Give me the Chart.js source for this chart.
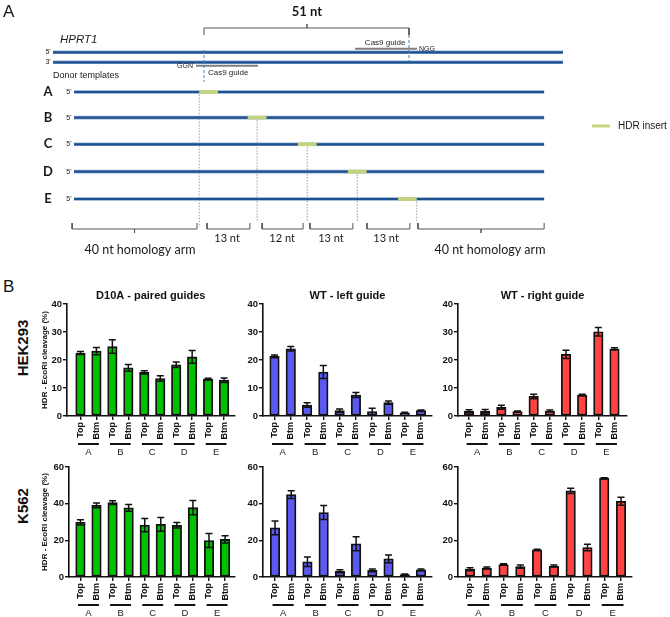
<!DOCTYPE html>
<html>
<head>
<meta charset="utf-8">
<title>HPRT1 HDR</title>
<script src="https://cdn.jsdelivr.net/npm/chart.js@4.4.1/dist/chart.umd.min.js"></script>
<style>
    html, body { margin: 0; padding: 0; background: #fff; }
    #fig { position: relative; width: 670px; height: 617px; overflow: hidden; font-family: "Liberation Sans", Arial, sans-serif; }
    canvas { position: absolute; }
    .panel { position: absolute; font-size: 17px; color: #111; }
    .cell { position: absolute; font-weight: bold; font-size: 15px; color: #111; white-space: nowrap;
            transform: translate(-50%, -50%) rotate(-90deg); }
</style>
</head>
<body>
<div id="fig">
    <canvas id="schematic" width="670" height="262" style="left:0;top:0"></canvas>
    <div class="panel" style="left:3px;top:277px">B</div>
    <div class="cell" style="left:22px;top:348px">HEK293</div>
    <div class="cell" style="left:22px;top:506px">K562</div>
    <canvas id="hekD10A"></canvas>
    <canvas id="hekLeft"></canvas>
    <canvas id="hekRight"></canvas>
    <canvas id="k562D10A"></canvas>
    <canvas id="k562Left"></canvas>
    <canvas id="k562Right"></canvas>
</div>
<script>
// ======================== 数据 (B) ========================
const groups = ['A', 'B', 'C', 'D', 'E'];
const strands = ['Top', 'Btm'];
const categories = groups.flatMap(() => strands);
const hekTicks = [0, 10, 20, 30, 40];
const k562Ticks = [0, 20, 40, 60];

const hekD10A      = [22.5, 23.2, 24.8, 17.2, 15.6, 13.4, 18.3, 21.1, 13.2, 12.8];
const hekD10AErr   = [0.5, 1.3, 2.4, 1.2, 0.6, 1.0, 1.0, 2.3, 0.3, 0.8];
const hekLeft      = [21.3, 24.0, 3.9, 15.7, 1.9, 7.5, 1.6, 4.8, 1.1, 1.9];
const hekLeftErr   = [0.5, 0.8, 0.8, 2.3, 0.6, 0.9, 1.2, 0.6, 0.2, 0.2];
const hekRight     = [1.7, 1.7, 3.1, 1.6, 7.0, 1.8, 22.0, 7.5, 30.1, 24.0];
const hekRightErr  = [0.5, 0.6, 0.7, 0.2, 0.8, 0.3, 1.5, 0.3, 1.5, 0.4];
const k562D10A     = [29.8, 39.1, 40.6, 37.7, 28.3, 28.7, 28.2, 37.8, 19.9, 20.5];
const k562D10AErr  = [1.4, 1.3, 1.0, 1.8, 3.6, 3.8, 1.5, 3.9, 3.8, 2.0];
const k562Left     = [26.8, 44.9, 8.3, 35.2, 3.1, 18.1, 3.6, 9.9, 1.3, 3.9];
const k562LeftErr  = [3.8, 2.1, 2.6, 3.8, 0.8, 3.8, 0.8, 2.1, 0.3, 0.5];
const k562Right    = [4.2, 4.9, 6.8, 5.7, 14.8, 6.0, 47.0, 16.1, 53.9, 41.3];
const k562RightErr = [0.8, 0.5, 0.4, 0.9, 0.4, 0.6, 1.4, 1.8, 0.3, 2.2];

// ======================== 示意图 (A) ========================
// x: schematic nt units, y: track rows (donor A = 0)
const genomeRows = [-1.484, -1.110];          // 5' / 3' strands
const genomeEnds = ["5'", "3'"];
const genomeSpan = [-6.7, 156.2];
const donorRows = [0, 0.957, 1.955, 2.976, 4.0];
const donorSpan = [0, 150.2];
const insertStarts = [40, 55.5, 71.5, 87.5, 103.5];
const insertLength = 6;
const dropOffsets = [0, 3, 3, 3, 6];
const dropEnds = [5.05, 4.82, 4.82, 4.82, 4.82];
const braceSpans = [[-0.6, 39.3], [42.5, 56.2], [60.1, 73.2], [75.4, 89.1], [93.6, 107.3], [109.9, 150.2]];
const braceLabels = ['40 nt homology arm', '13 nt', '12 nt', '13 nt', '13 nt', '40 nt homology arm'];
const braceLabelX = [21.1, 48.9, 66.5, 82.1, 99.7, 132.9];
const guideLeft = { span: [38.98, 58.79], row: -0.983, cut: 41.53, cutRows: [-1.57, -0.374] };
const guideRight = { span: [89.78, 109.58], row: -1.619, cut: 107.03, cutRows: [-2.131, -1.121] };
const bracket51 = { span: [41.53, 107.03], row: -2.393, endRow: -2.131, tip: 74.44, tipRow: -2.542 };

const C_STRAND = '#1f4f8e';
const C_HALO = '#86acd4';
const C_INSERT = '#c4d47e';
const SANS = '"Liberation Sans", Arial, sans-serif';
const CAL = 'Lato, "Liberation Sans", sans-serif';

function seg(points, color, width, order, dash) {
    return {
        data: points.map(([x, y]) => ({ x, y })),
        showLine: true, borderColor: color, borderWidth: width, borderDash: dash || [],
        pointRadius: 0, fill: false, tension: 0, order,
        borderCapStyle: 'butt'
    };
}

function braceShape([x0, x1], withTip) {
    const mid = (x0 + x1) / 2;
    const pts = [[x0, 4.897], [x0, 5.121]];
    if (withTip) pts.push([mid, 5.121], [mid, 5.271], [mid, 5.121]);
    pts.push([x1, 5.121], [x1, 4.897]);
    return pts;
}

const schematicSets = [];
genomeRows.forEach(r => {
    schematicSets.push(seg([[genomeSpan[0], r], [genomeSpan[1], r]], C_HALO, 3.6, 20));
    schematicSets.push(seg([[genomeSpan[0], r], [genomeSpan[1], r]], C_STRAND, 2.2, 15));
});
donorRows.forEach((r, i) => {
    schematicSets.push(seg([[donorSpan[0], r], [donorSpan[1], r]], C_HALO, 3.6, 20));
    schematicSets.push(seg([[donorSpan[0], r], [donorSpan[1], r]], C_STRAND, 2.2, 15));
    schematicSets.push(seg([[insertStarts[i], r], [insertStarts[i] + insertLength, r]], C_INSERT, 3.8, 5));
    const dx = insertStarts[i] + dropOffsets[i];
    schematicSets.push(seg([[dx, r + 0.1], [dx, dropEnds[i]]], '#9a9a9a', 1, 25, [1.5, 1.5]));
});
[guideLeft, guideRight].forEach(g => {
    schematicSets.push(seg([[g.span[0], g.row], [g.span[1], g.row]], '#808080', 2, 8));
    schematicSets.push(seg([[g.cut, g.cutRows[0]], [g.cut, g.cutRows[1]]], '#3f7fc0', 1, 3, [3, 2]));
});
braceSpans.forEach(s => schematicSets.push(seg(braceShape(s, s[1] - s[0] > 30), '#555', 1, 10)));
schematicSets.push(seg([
    [bracket51.span[0], bracket51.endRow], [bracket51.span[0], bracket51.row],
    [bracket51.tip, bracket51.row], [bracket51.tip, bracket51.tipRow], [bracket51.tip, bracket51.row],
    [bracket51.span[1], bracket51.row], [bracket51.span[1], bracket51.endRow]
], '#555', 1, 10));
// legend swatch
schematicSets.push(seg([[165.5, 1.271], [171.2, 1.271]], C_INSERT, 3, 5));

const schematicText = [
    { t: 'A', x: -22.7, y: -2.97, font: '17px ' + SANS, align: 'left' },
    { t: '51 nt', x: bracket51.tip, y: -2.99, font: 'bold 13px ' + CAL },
    { t: 'HPRT1', x: -4.47, y: -1.944, font: 'italic 11.5px ' + SANS, align: 'left' },
    { t: 'GGN', x: 38.0, y: -0.972, font: '7px ' + SANS, align: 'right' },
    { t: 'Cas9 guide', x: 42.8, y: -0.71, font: '8px ' + SANS, align: 'left' },
    { t: 'Cas9 guide', x: 99.4, y: -1.832, font: '8px ' + SANS },
    { t: 'NGG', x: 110.2, y: -1.589, font: '7px ' + SANS, align: 'left' },
    { t: 'Donor templates', x: -6.71, y: -0.598, font: '9px ' + SANS, align: 'left' },
    { t: 'HDR insert', x: 173.8, y: 1.271, font: '10px ' + SANS, align: 'left' }
];
genomeRows.forEach((r, i) => schematicText.push({ t: genomeEnds[i], x: -8.3, y: r, font: '7px ' + SANS }));
donorRows.forEach((r, i) => {
    schematicText.push({ t: groups[i], x: -8.3, y: r, font: 'bold 13px ' + CAL });
    schematicText.push({ t: "5'", x: -1.6, y: r, font: '7px ' + SANS });
});
braceLabels.forEach((t, i) => {
    const big = t.length > 6;
    schematicText.push({ t, x: braceLabelX[i], y: big ? 5.907 : 5.458, font: (big ? '12.5px ' : '11px ') + CAL });
});

const textPlugin = {
    id: 'schematicText',
    afterDraw(chart) {
        const { ctx, scales } = chart;
        ctx.save();
        ctx.fillStyle = '#1a1a1a';
        ctx.textBaseline = 'middle';
        schematicText.forEach(l => {
            ctx.font = l.font;
            ctx.textAlign = l.align || 'center';
            ctx.fillText(l.t, scales.x.getPixelForValue(l.x), scales.y.getPixelForValue(l.y));
        });
        ctx.restore();
    }
};

new Chart(document.getElementById('schematic'), {
    type: 'scatter',
    data: { datasets: schematicSets },
    options: {
        responsive: false, animation: false, events: [],
        layout: { padding: 0 },
        plugins: { legend: { display: false }, tooltip: { enabled: false } },
        scales: {
            x: { type: 'linear', min: -23.64, max: 190.42, display: false },
            y: { type: 'linear', min: -3.439, max: 6.355, reverse: true, display: false }
        }
    },
    plugins: [textPlugin]
});

// ======================== 柱状图 ========================
const errorBarPlugin = {
    id: 'errorBars',
    afterDatasetsDraw(chart) {
        const ds = chart.data.datasets[0];
        const { ctx, scales } = chart;
        ctx.save();
        ctx.strokeStyle = '#111';
        ctx.lineWidth = 1.5;
        ds.data.forEach((p, i) => {
            const e = ds.errors[i];
            const x = scales.x.getPixelForValue(p.x);
            const yHi = scales.y.getPixelForValue(p.y + e);
            const yLo = scales.y.getPixelForValue(Math.max(0, p.y - e));
            ctx.beginPath();
            ctx.moveTo(x, yHi); ctx.lineTo(x, yLo);
            ctx.moveTo(x - 3.5, yHi); ctx.lineTo(x + 3.5, yHi);
            ctx.moveTo(x - 3.5, yLo); ctx.lineTo(x + 3.5, yLo);
            ctx.stroke();
        });
        ctx.restore();
    }
};

const groupPlugin = {
    id: 'groupLines',
    afterDraw(chart, args, opts) {
        const { ctx, scales, chartArea } = chart;
        ctx.save();
        ctx.strokeStyle = '#111';
        ctx.lineWidth = 2;
        ctx.fillStyle = '#222';
        ctx.font = '9.5px ' + SANS;
        ctx.textAlign = 'center';
        ctx.textBaseline = 'middle';
        groups.forEach((g, i) => {
            const c = i * 2 + 0.5;
            const y = chartArea.bottom + 28;
            ctx.beginPath();
            ctx.moveTo(scales.x.getPixelForValue(c - 0.65), y);
            ctx.lineTo(scales.x.getPixelForValue(c + 0.65), y);
            ctx.stroke();
            ctx.fillText(g, scales.x.getPixelForValue(c), y + 8);
        });
        if (opts.title) {
            ctx.font = 'bold 11px ' + SANS;
            ctx.fillStyle = '#111';
            ctx.fillText(opts.title, (chartArea.left + chartArea.right) / 2, chartArea.top - 8);
        }
        ctx.restore();
    }
};

// 行/列布局 (像素)
const rowBox = [
    { top: 280, height: 180, padTop: 24, xHeight: 44 },
    { top: 445, height: 172, padTop: 22, xHeight: 40 }
];
const colBox = [
    [{ left: 28, axisLeft: 67, axisRight: 235, first: 80.5, last: 224.5 },
     { left: 28, axisLeft: 69, axisRight: 236, first: 80.5, last: 226 }],
    [{ left: 238, axisLeft: 263, axisRight: 432, first: 274.5, last: 421 },
     { left: 238, axisLeft: 263, axisRight: 432, first: 275, last: 421 }],
    [{ left: 433, axisLeft: 458, axisRight: 627, first: 469, last: 614.5 },
     { left: 433, axisLeft: 458, axisRight: 632, first: 470, last: 621 }]
];

function makeBarChart(id, row, col, values, errors, color, yTicks, title) {
    const r = rowBox[row];
    const c = colBox[col][row];
    const canvas = document.getElementById(id);
    canvas.width = c.axisRight - c.left + 2;
    canvas.height = r.height;
    canvas.style.left = c.left + 'px';
    canvas.style.top = r.top + 'px';
    const spacing = (c.last - c.first) / (categories.length - 1);
    const tickFont = { family: SANS, size: 9.5, weight: 'bold' };

    return new Chart(canvas, {
        type: 'bar',
        data: {
            datasets: [{
                data: values.map((v, i) => ({ x: i, y: v })),
                errors,
                backgroundColor: color,
                borderColor: '#111',
                borderWidth: 1.8,
                borderSkipped: false,
                barThickness: 9.5
            }]
        },
        options: {
            responsive: false, animation: false, events: [],
            layout: { padding: { top: r.padTop, right: 2, left: 0, bottom: 0 } },
            plugins: {
                legend: { display: false },
                tooltip: { enabled: false },
                groupLines: { title }
            },
            scales: {
                x: {
                    type: 'linear',
                    offset: false,
                    min: (c.axisLeft - c.first) / spacing,
                    max: (c.axisRight - c.first) / spacing,
                    afterBuildTicks: s => { s.ticks = categories.map((_, i) => ({ value: i })); },
                    afterFit: s => { s.height = r.xHeight; },
                    ticks: {
                        autoSkip: false, minRotation: 90, maxRotation: 90, padding: 2,
                        color: '#111', font: { family: SANS, size: 9, weight: 'bold' },
                        callback: v => categories[v]
                    },
                    grid: { offset: false, drawOnChartArea: false, tickLength: 4, color: '#111', lineWidth: 1.4 },
                    border: { color: '#111', width: 1.6 }
                },
                y: {
                    min: 0,
                    max: yTicks[yTicks.length - 1],
                    afterBuildTicks: s => { s.ticks = yTicks.map(v => ({ value: v })); },
                    afterFit: s => { s.width = c.axisLeft - c.left; },
                    ticks: { padding: 1, color: '#111', font: tickFont },
                    grid: { drawOnChartArea: false, tickLength: 4, color: '#111', lineWidth: 1.4 },
                    border: { color: '#111', width: 1.6 },
                    title: {
                        display: col === 0,
                        text: 'HDR - EcoRI cleavage (%)',
                        color: '#111',
                        font: { family: SANS, size: 8, weight: 'bold' },
                        padding: { top: 12, bottom: 0 }
                    }
                }
            }
        },
        plugins: [errorBarPlugin, groupPlugin]
    });
}

const GREEN = '#00c000';
const BLUE = '#5a5af2';
const RED = '#ff4242';

makeBarChart('hekD10A', 0, 0, hekD10A, hekD10AErr, GREEN, hekTicks, 'D10A - paired guides');
makeBarChart('hekLeft', 0, 1, hekLeft, hekLeftErr, BLUE, hekTicks, 'WT - left guide');
makeBarChart('hekRight', 0, 2, hekRight, hekRightErr, RED, hekTicks, 'WT - right guide');
makeBarChart('k562D10A', 1, 0, k562D10A, k562D10AErr, GREEN, k562Ticks, null);
makeBarChart('k562Left', 1, 1, k562Left, k562LeftErr, BLUE, k562Ticks, null);
makeBarChart('k562Right', 1, 2, k562Right, k562RightErr, RED, k562Ticks, null);
</script>
</body>
</html>
